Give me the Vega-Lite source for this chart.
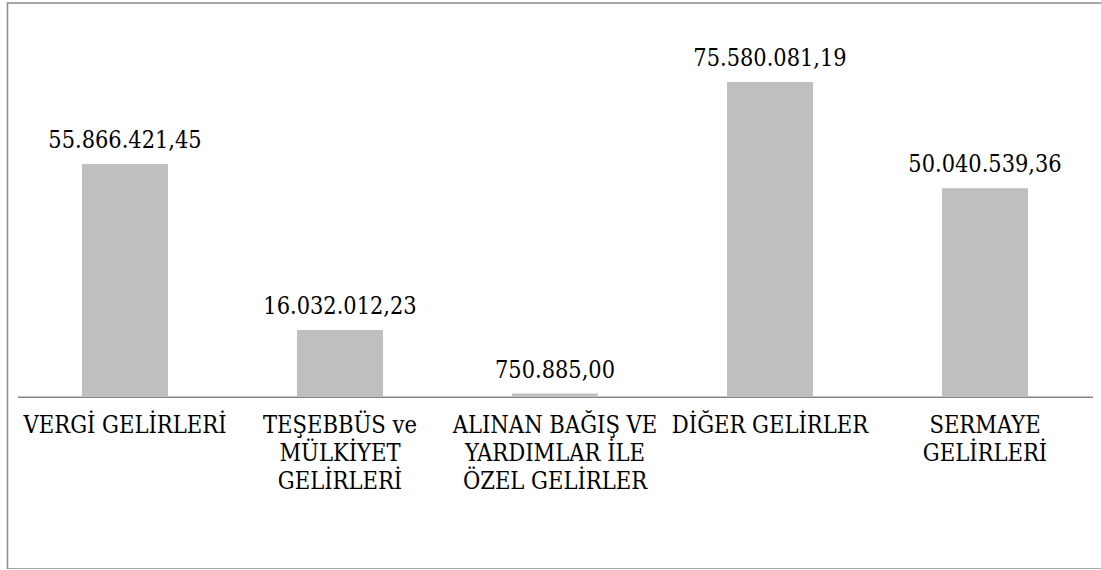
{
  "$schema": "https://vega.github.io/schema/vega-lite/v6.json",
  "autosize": {"type": "none"},
  "padding": {"left": 7.5, "top": 3, "right": 0, "bottom": 0},
  "width": 1096,
  "height": 566,
  "background": "white",
  "config": {
    "view": {"stroke": "#8c8c8c", "strokeWidth": 1.5},
    "locale": {"number": {"decimal": ",", "thousands": ".", "grouping": [3], "currency": ["", " TL"]}}
  },
  "data": {
    "values": [
      {"kalem": "VERGİ GELİRLERİ", "etiket": "VERGİ GELİRLERİ", "tutar": 55866421.45},
      {"kalem": "TEŞEBBÜS ve MÜLKİYET GELİRLERİ", "etiket": "TEŞEBBÜS ve\nMÜLKİYET\nGELİRLERİ", "tutar": 16032012.23},
      {"kalem": "ALINAN BAĞIŞ VE YARDIMLAR İLE ÖZEL GELİRLER", "etiket": "ALINAN BAĞIŞ VE\nYARDIMLAR İLE\nÖZEL GELİRLER", "tutar": 750885.00},
      {"kalem": "DİĞER GELİRLER", "etiket": "DİĞER GELİRLER", "tutar": 75580081.19},
      {"kalem": "SERMAYE GELİRLERİ", "etiket": "SERMAYE\nGELİRLERİ", "tutar": 50040539.36}
    ]
  },
  "encoding": {
    "x": {
      "field": "kalem",
      "type": "nominal",
      "sort": null,
      "scale": {"range": [10, 1085], "paddingInner": 0, "paddingOuter": 0},
      "axis": {"title": null, "labels": false, "ticks": false, "grid": false, "domain": true, "domainColor": "#868686", "domainWidth": 1.5, "offset": -172.3}
    }
  },
  "layer": [
    {
      "mark": {"type": "bar", "color": "#bfbfbf", "width": {"band": 0.4}},
      "encoding": {
        "y": {
          "field": "tutar",
          "type": "quantitative",
          "scale": {"domain": [-41380000, 94550000], "nice": false, "zero": false},
          "axis": null
        }
      }
    },
    {
      "mark": {"type": "text", "font": "DejaVu Serif Condensed", "fontSize": 23.3, "baseline": "alphabetic", "align": "center", "dy": -16, "color": "#000000"},
      "encoding": {
        "y": {"field": "tutar", "type": "quantitative"},
        "text": {"field": "tutar", "type": "quantitative", "format": ",.2f"}
      }
    },
    {
      "mark": {"type": "text", "font": "DejaVu Serif Condensed", "fontSize": 23.5, "baseline": "alphabetic", "align": "center", "dy": 36.5, "lineBreak": "\n", "lineHeight": 28, "color": "#000000"},
      "encoding": {
        "y": {"datum": 0, "type": "quantitative"},
        "text": {"field": "etiket", "type": "nominal"}
      }
    }
  ]
}
